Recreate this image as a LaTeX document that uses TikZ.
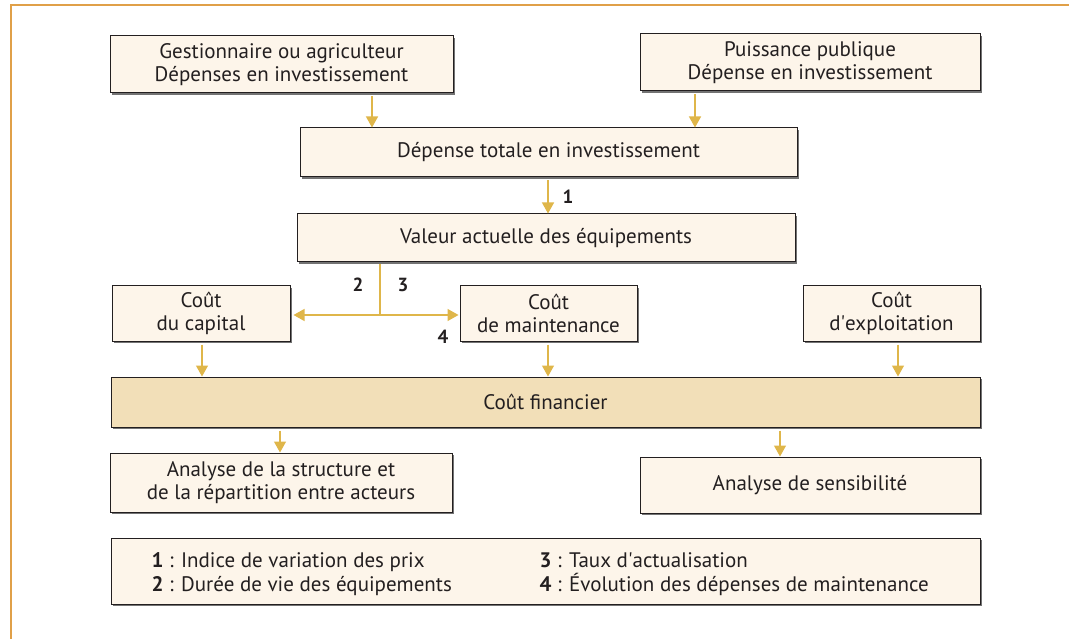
\documentclass[tikz,border=0pt]{standalone}
\usepackage{fontspec}
\setmainfont{PT Sans}
\usetikzlibrary{arrows.meta,shadows,calc}
\definecolor{cadre}{HTML}{E0A048}
\definecolor{fleche}{HTML}{DFB64A}
\definecolor{creme}{HTML}{FDF5EA}
\definecolor{sable}{HTML}{F2DFB8}
\definecolor{encre}{HTML}{231F20}
\tikzset{
  boite/.style={draw=encre,line width=1pt,fill=creme,align=center,inner sep=0pt,
    text=encre,font=\fontsize{21}{23}\selectfont,
    general shadow={shadow xshift=2pt,shadow yshift=-2pt,fill=black!55}},
  fl/.style={draw=fleche,line width=1.3pt,-{Triangle[width=12pt,length=11pt]}},
  chiffre/.style={font=\rmfamily\bfseries\fontsize{19}{20}\selectfont,text=encre},
  legende/.style={anchor=base west,text=encre,font=\fontsize{21}{23}\selectfont}
}
\begin{document}
\begin{tikzpicture}[x=1pt,y=-1pt]
      \useasboundingbox (0,0) rectangle (1069,639);
      \draw[cadre,line width=2.5pt] (11,639)--(11,5)--(1069,5);
      % boites
      \node[boite,minimum width=343pt,minimum height=57pt](gest)at(281.5,64.5)
        {Gestionnaire ou agriculteur\\D\'epenses en investissement};
      \node[boite,minimum width=340pt,minimum height=57pt](pub)at(810,62.5)
        {Puissance publique\\D\'epense en investissement};
      \node[boite,minimum width=497pt,minimum height=49pt](tot)at(548.5,152.5)
        {D\'epense totale en investissement};
      \node[boite,minimum width=498pt,minimum height=48pt](val)at(546,238)
        {Valeur actuelle des \'equipements};
      \node[boite,minimum width=178pt,minimum height=55pt](cap)at(201,313.5)
        {Co\^ut\\du capital};
      \node[boite,minimum width=177pt,minimum height=55pt](maint)at(548.5,313.5)
        {Co\^ut\\de maintenance};
      \node[boite,minimum width=177pt,minimum height=55pt](expl)at(891.5,313.5)
        {Co\^ut\\d\textquotesingle exploitation};
      \node[boite,fill=sable,minimum width=869pt,minimum height=50pt](fin)at(545.5,402)
        {Co\^ut financier};
      \node[boite,minimum width=342pt,minimum height=59pt](struct)at(281,482.5)
        {Analyse de la structure et\\de la r\'epartition entre acteurs};
      \node[boite,minimum width=340pt,minimum height=56pt](sens)at(810,485)
        {Analyse de sensibilit\'e};
      \node[boite,minimum width=869pt,minimum height=66pt](leg)at(545.5,571){};
      % legende
      \node[legende](l1)at(148,567){\textbf{1} : Indice de variation des prix};
      \node[legende](l2)at(148,591){\textbf{2} : Dur\'ee de vie des \'equipements};
      \node[legende](l3)at(536,567){\textbf{3} : Taux d\textquotesingle actualisation};
      \node[legende](l4)at(536,591){\textbf{4} : \'Evolution des d\'epenses de maintenance};
      % fleches
      \coordinate(a1)at(372,0);
      \coordinate(a2)at(695,0);
      \coordinate(a3)at(548,0);
      \coordinate(j)at(380,315);
      \coordinate(a4)at(202,0);
      \coordinate(a5)at(898,0);
      \coordinate(a6)at(280,0);
      \coordinate(a7)at(780,0);
      \draw[fl](gest.south-|a1)++(0,3)--(tot.north-|a1);
      \draw[fl](pub.south-|a2)++(0,3)--(tot.north-|a2);
      \draw[fl](tot.south-|a3)++(0,3)--(val.north-|a3);
      \draw[draw=fleche,line width=1.3pt](val.south-|j)++(0,2)--(j);
      \draw[fl](j)--($(j-|cap.east)+(3,0)$);
      \draw[fl](j)--($(j-|maint.west)+(-1,0)$);
      \draw[fl](cap.south-|a4)++(0,3)--(fin.north-|a4);
      \draw[fl](maint.south-|a3)++(0,3)--(fin.north-|a3);
      \draw[fl](expl.south-|a5)++(0,3)--(fin.north-|a5);
      \draw[fl](fin.south-|a6)++(0,3)--(struct.north-|a6);
      \draw[fl](fin.south-|a7)++(0,3)--(sens.north-|a7);
      \node[chiffre](n1)at(568,197){1};
      \node[chiffre](n2)at(358,285){2};
      \node[chiffre](n3)at(403,285){3};
      \node[chiffre](n4)at(443,337){4};
\end{tikzpicture}
\end{document}
